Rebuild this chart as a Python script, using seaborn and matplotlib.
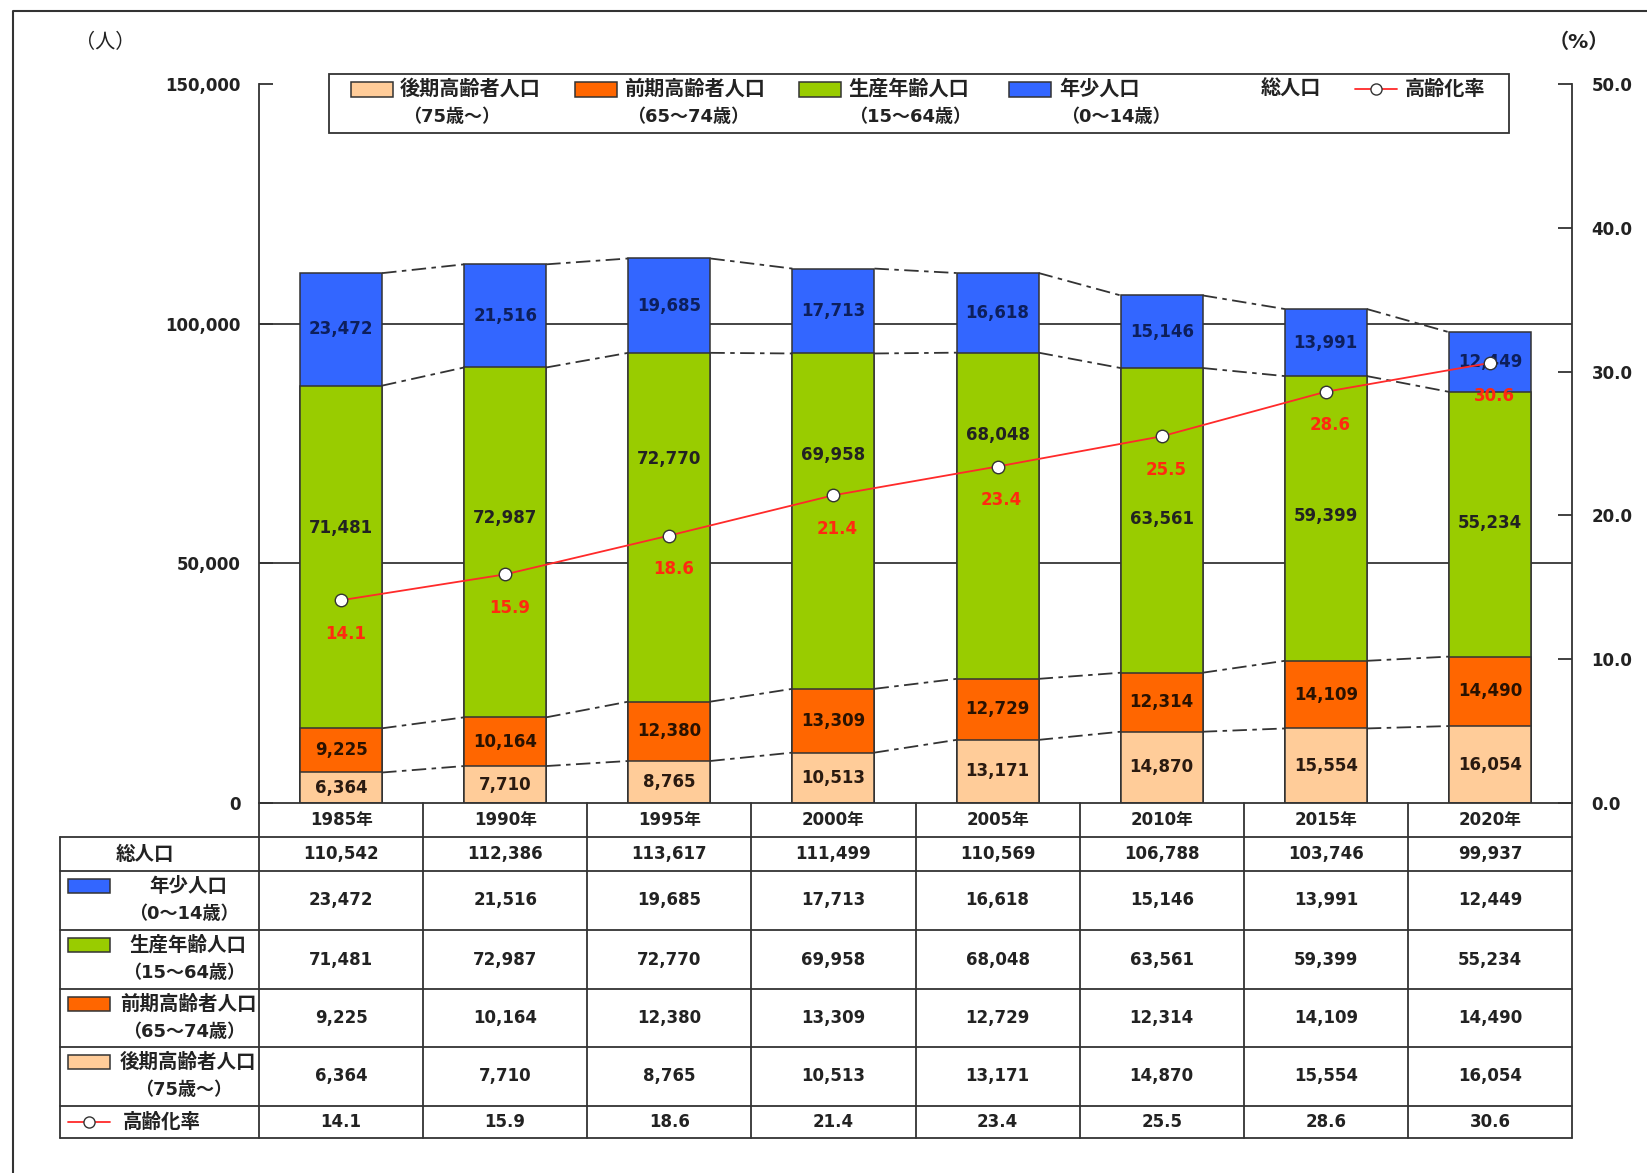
import numpy as np
import pandas as pd
import matplotlib
matplotlib.use("Agg")
import matplotlib.pyplot as plt
import seaborn as sns
from matplotlib.patches import Rectangle

# === DADOS ===
years = ["1985年", "1990年", "1995年", "2000年", "2005年", "2010年", "2015年", "2020年"]
total_pop = [110542, 112386, 113617, 111499, 110569, 106788, 103746, 99937]
young = [23472, 21516, 19685, 17713, 16618, 15146, 13991, 12449]
working = [71481, 72987, 72770, 69958, 68048, 63561, 59399, 55234]
early_old = [9225, 10164, 12380, 13309, 12729, 12314, 14109, 14490]
late_old = [6364, 7710, 8765, 10513, 13171, 14870, 15554, 16054]
aging_rate = [14.1, 15.9, 18.6, 21.4, 23.4, 25.5, 28.6, 30.6]

left_ticks = [0, 50000, 100000, 150000]
right_ticks = [0, 10, 20, 30, 40, 50]

# === CORES ===
C_BLUE = "#3366FF"
C_GREEN = "#99CC00"
C_ORANGE = "#FF6600"
C_PEACH = "#FFCC99"
C_RED = "#FF2A2A"
C_EDGE = "#333333"
C_TXT = "#222222"

sns.set_style("white")
FAM = ["DejaVu Sans", "Noto Sans CJK JP"]
plt.rcParams["font.family"] = FAM

W, H = 1647, 1173
X0, X1 = 259, 1572      # eixo do gráfico (px)
Y0, Y1 = 803, 84        # 0 e 150.000 (px)
NUM = 12
JP = 14.5

df = pd.DataFrame({
    "year": years, "young": young, "working": working,
    "early": early_old, "late": late_old,
})
df["c1"] = df["late"]
df["c2"] = df["c1"] + df["early"]
df["c3"] = df["c2"] + df["working"]
df["c4"] = df["c3"] + df["young"]

fig = plt.figure(figsize=(W / 100, H / 100), dpi=100)
ax = fig.add_axes([X0 / W, 1 - Y0 / H, (X1 - X0) / W, (Y0 - Y1) / H])

# barras empilhadas: desenha da mais alta para a mais baixa
for col, color in [("c4", C_BLUE), ("c3", C_GREEN), ("c2", C_ORANGE), ("c1", C_PEACH)]:
    sns.barplot(data=df, x="year", y=col, color=color, saturation=1, width=0.5,
                edgecolor=C_EDGE, linewidth=1.1, errorbar=None, ax=ax, zorder=2)

n = len(years)
ax.set_xlim(-0.5, n - 0.5)
ax.set_ylim(0, 150000)
for g in (50000, 100000):
    ax.axhline(g, color="#111111", lw=1.1, zorder=0.5)

# linhas tracejadas entre as barras
for col in ["c1", "c2", "c3", "c4"]:
    lev = df[col].values
    for i in range(n - 1):
        ax.plot([i + 0.25, i + 0.75], [lev[i], lev[i + 1]], color="#333333",
                lw=1.3, ls=(0, (8, 3, 2.5, 3)), zorder=1)

# rótulos dos segmentos
green_pos = [0.585, 0.571, 0.696, 0.696, 0.749, 0.506, 0.51, 0.506]
for i in range(n):
    ax.text(i, df["c4"][i] - young[i] / 2, f"{young[i]:,}", ha="center", va="center",
            fontsize=NUM, fontweight="bold", color="#0d1f5c", zorder=5)
    ax.text(i, df["c2"][i] + working[i] * green_pos[i], f"{working[i]:,}", ha="center",
            va="center", fontsize=NUM, fontweight="bold", color=C_TXT, zorder=5)
    ax.text(i, df["c1"][i] + early_old[i] / 2, f"{early_old[i]:,}", ha="center", va="center",
            fontsize=NUM, fontweight="bold", color="#2a1200", zorder=5)
    ax.text(i, late_old[i] / 2, f"{late_old[i]:,}", ha="center", va="center",
            fontsize=NUM, fontweight="bold", color="#2a1a10", zorder=5)

ax.set_yticks(left_ticks)
ax.set_yticklabels([f"{v:,}" for v in left_ticks], fontweight="bold", color=C_TXT)
ax.tick_params(axis="y", direction="in", length=10, width=1.3, pad=13, labelsize=NUM,
               left=True, colors=C_EDGE)
ax.tick_params(axis="x", bottom=False, labelbottom=False)
ax.set_xlabel("")
ax.set_ylabel("")
for s in ["top", "right"]:
    ax.spines[s].set_visible(False)
for s in ["left", "bottom"]:
    ax.spines[s].set_color(C_EDGE)
    ax.spines[s].set_linewidth(1.3)

# eixo secundário: taxa de envelhecimento
ax2 = ax.twinx()
sns.lineplot(x=np.arange(n), y=aging_rate, ax=ax2, color=C_RED, lw=1.3, marker="o",
             markersize=9, markerfacecolor="white", markeredgecolor=C_EDGE,
             markeredgewidth=1.0, zorder=6)
ax2.set_ylim(0, 50)
ax2.set_xlim(-0.5, n - 0.5)
for i, r in enumerate(aging_rate):
    ax2.annotate(f"{r:.1f}", (i, r), xytext=(3, -24), textcoords="offset points",
                 ha="center", va="center", fontsize=NUM, fontweight="bold", color="#FF2A10",
                 zorder=7)
ax2.set_yticks(right_ticks)
ax2.set_yticklabels([f"{v:.1f}" for v in right_ticks], fontweight="bold", color=C_TXT)
ax2.tick_params(axis="y", direction="in", length=10, width=1.3, pad=14, labelsize=NUM,
                right=True, colors=C_EDGE)
ax2.set_ylabel("")
for s in ["top", "left", "bottom"]:
    ax2.spines[s].set_visible(False)
ax2.spines["right"].set_color(C_EDGE)
ax2.spines["right"].set_linewidth(1.3)
for t in ax.get_yticklabels() + ax2.get_yticklabels():
    t.set_color(C_TXT)

# === camada em pixels: moldura, legenda, tabela ===
ov = fig.add_axes([0, 0, 1, 1], zorder=10)
ov.set_xlim(0, W)
ov.set_ylim(H, 0)
ov.axis("off")
ov.patch.set_alpha(0)

ov.plot([12.6, 12.6, W], [H, 10.5, 10.5], color=C_EDGE, lw=1.5)
ov.text(105, 42, "（人）", ha="center", va="center", fontsize=JP, color=C_TXT)
ov.text(1579, 42, "（%）", ha="center", va="center", fontsize=JP, fontweight="bold", color=C_TXT)

# legenda
ov.add_patch(Rectangle((329, 74), 1180, 59, facecolor="white", edgecolor=C_EDGE, lw=1.3))
legend_items = [
    (351, 400, 452, C_PEACH, "後期高齢者人口", "（75歳～）"),
    (575, 624, 688, C_ORANGE, "前期高齢者人口", "（65～74歳）"),
    (799, 848, 910, C_GREEN, "生産年齢人口", "（15～64歳）"),
    (1009, 1059, 1116, C_BLUE, "年少人口", "（0～14歳）"),
]
for px, tx, t2x, color, l1, l2 in legend_items:
    ov.add_patch(Rectangle((px, 82), 42, 15, facecolor=color, edgecolor=C_EDGE, lw=1.1))
    ov.text(tx, 89, l1, ha="left", va="center", fontsize=JP, fontweight="bold", color=C_TXT)
    ov.text(t2x, 117, l2, ha="center", va="center", fontsize=JP - 1.5, fontweight="bold",
            color=C_TXT)
ov.text(1261, 89, "総人口", ha="left", va="center", fontsize=JP, fontweight="bold", color=C_TXT)
ov.plot([1355, 1397], [89, 89], color=C_RED, lw=1.3)
ov.plot([1376], [89], marker="o", ms=8, mfc="white", mec=C_EDGE, mew=1.0)
ov.text(1405, 89, "高齢化率", ha="left", va="center", fontsize=JP, fontweight="bold", color=C_TXT)

# tabela
TX0 = 60
rows = [803, 837, 871, 930, 989, 1047, 1106, 1138]
colw = (X1 - X0) / n
for yb in rows[1:]:
    ov.plot([TX0, X1], [yb, yb], color=C_EDGE, lw=1.3)
ov.plot([TX0, TX0], [rows[1], rows[-1]], color=C_EDGE, lw=1.3)
for i in range(n + 1):
    xb = X0 + i * colw
    ov.plot([xb, xb], [rows[0], rows[-1]], color=C_EDGE, lw=1.3)

table_rows = [
    [y for y in years],
    [f"{v:,}" for v in total_pop],
    [f"{v:,}" for v in young],
    [f"{v:,}" for v in working],
    [f"{v:,}" for v in early_old],
    [f"{v:,}" for v in late_old],
    [f"{v:.1f}" for v in aging_rate],
]
for r, vals in enumerate(table_rows):
    yc = (rows[r] + rows[r + 1]) / 2
    for i, v in enumerate(vals):
        ov.text(X0 + (i + 0.5) * colw, yc, v, ha="center", va="center",
                fontsize=NUM, fontweight="bold", color=C_TXT)

ov.text(145, (rows[1] + rows[2]) / 2, "総人口", ha="center", va="center",
        fontsize=JP - 0.5, fontweight="bold", color=C_TXT)
row_labels = [
    (C_BLUE, "年少人口", "（0～14歳）"),
    (C_GREEN, "生産年齢人口", "（15～64歳）"),
    (C_ORANGE, "前期高齢者人口", "（65～74歳）"),
    (C_PEACH, "後期高齢者人口", "（75歳～）"),
]
for k, (color, l1, l2) in enumerate(row_labels):
    top = rows[2 + k]
    ov.add_patch(Rectangle((68, top + 8), 42, 14, facecolor=color, edgecolor=C_EDGE, lw=1.1))
    ov.text(188, top + 15, l1, ha="center", va="center", fontsize=JP - 0.5,
            fontweight="bold", color=C_TXT)
    ov.text(184, top + 43, l2, ha="center", va="center", fontsize=JP - 1.5,
            fontweight="bold", color=C_TXT)
yc = (rows[6] + rows[7]) / 2
ov.plot([68, 110], [yc, yc], color=C_RED, lw=1.3)
ov.plot([89], [yc], marker="o", ms=8, mfc="white", mec=C_EDGE, mew=1.0)
ov.text(123, yc, "高齢化率", ha="left", va="center", fontsize=JP - 0.5,
        fontweight="bold", color=C_TXT)

fig.savefig("out.png", dpi=100)
